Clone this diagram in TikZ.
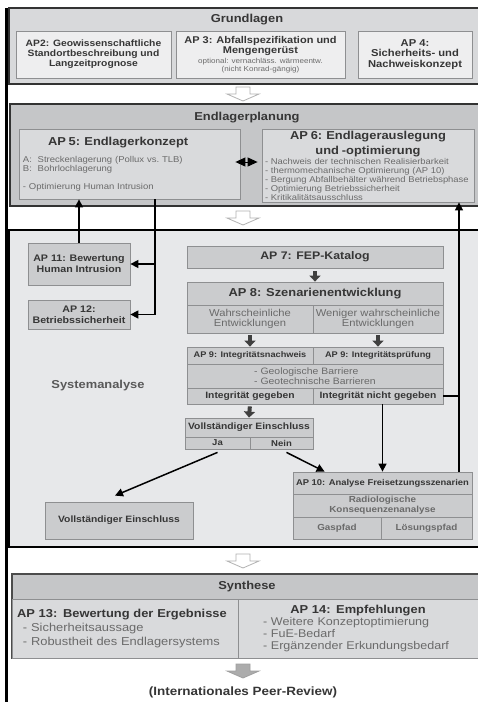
\documentclass[tikz,border=0pt]{standalone}
\usepackage{fontspec}
\setmainfont{Liberation Sans}[FakeStretch=1.12]
\usetikzlibrary{arrows.meta,calc}

\definecolor{grundfill}{HTML}{D8D9DB}
\definecolor{grundbox}{HTML}{EEEEEF}
\definecolor{planfill}{HTML}{C5C6C8}
\definecolor{planbox}{HTML}{D9DADC}
\definecolor{sysfill}{HTML}{E7E8EA}
\definecolor{sysbox}{HTML}{CBCCCE}
\definecolor{synband}{HTML}{C5C6C8}
\definecolor{synbox}{HTML}{D9DADC}
\definecolor{rim}{HTML}{8E8F91}
\definecolor{ink}{HTML}{363636}
\definecolor{softink}{HTML}{6A6A6A}

\newcommand\fsz[2]{\fontsize{#1}{#2}\selectfont}

\tikzset{
  section/.style={draw=black!80, line width=1.4pt, inner sep=0pt},
  sectitle/.style={font=\bfseries\fsz{11.5}{13}, text=ink},
  cell/.style={draw=rim, line width=0.8pt, fill=sysbox, inner sep=0pt, align=center, text=ink},
  conn/.style={line width=1.5pt, -{Triangle[width=8pt,length=8pt]}},
  fat/.style={draw=black!75, line width=4pt, -{Triangle[width=11pt,length=6pt]}},
  sectionarrow/.pic={\path[pic actions] (-7,0) -- (7,0) -- (7,7) -- (16,7) -- (0,14) -- (-16,7) -- (-7,7) -- cycle;}
}

\begin{document}
\begin{tikzpicture}[x=1pt, y=-1pt]
  \clip (0,0) rectangle (478,702);
  \fill[white] (0,0) rectangle (478,702);

  % Grundlagen
  \node[section, fill=grundfill, minimum width=477pt, minimum height=76pt] (grund) at (247.5,46) {};
  \node[sectitle] (grundtitle) at (247,20) {Grundlagen};
  \node[cell, fill=grundbox, minimum width=155pt, minimum height=47pt, font=\bfseries\fsz{9.2}{10}] (ap2) at (93.5,54.5)
    {AP2: Geowissenschaftliche\\Standortbeschreibung und\\Langzeitprognose};
  \node[cell, fill=grundbox, minimum width=169pt, minimum height=47pt, font=\bfseries\fsz{9.8}{10.5}] (ap3) at (260.5,54.5)
    {AP 3: Abfallspezifikation und\\Mengengerüst\\[-1pt]{\mdseries\fsz{7.2}{8}\color{softink}optional: vernachläss. wärmeentw.}\\[-2.5pt]{\mdseries\fsz{7.2}{8}\color{softink}(nicht Konrad-gängig)}};
  \node[cell, fill=grundbox, minimum width=114pt, minimum height=47pt, font=\bfseries\fsz{10}{10.2}] (ap4) at (415,54.5)
    {AP 4:\\Sicherheits- und\\Nachweiskonzept};

  \pic[draw=gray!60, fill=white, line width=0.8pt] at (243,87) {sectionarrow};

  % Endlagerplanung
  \node[section, fill=planfill, minimum width=476pt, minimum height=102pt, line width=1.8pt] (plan) at (248,155) {};
  \node[sectitle] (plantitle) at (247,118) {Endlagerplanung};
  \node[cell, fill=planbox, minimum width=221pt, minimum height=70pt, text width=213pt, align=left, font=\fsz{8.5}{9}, text=softink] (ap5) at (129.5,164)
    {\hspace*{25pt}{\bfseries\fsz{11.5}{13}\color{ink}AP 5: Endlagerkonzept}\\[8pt]
     A:\ \ Streckenlagerung (Pollux vs.\ TLB)\\
     B:\ \ Bohrlochlagerung\\[9pt]
     - Optimierung Human Intrusion};
  \node[cell, fill=planbox, minimum width=212pt, minimum height=73pt, text width=206pt, align=left, font=\fsz{8.4}{9}, text=softink] (ap6) at (368,165.5)
    {\makebox[206pt]{\bfseries\fsz{11.5}{12}\color{ink}AP 6: Endlagerauslegung}\\[3pt]
     \makebox[206pt]{\bfseries\fsz{11.5}{12}\color{ink}und -optimierung}\\[1pt]
     - Nachweis der technischen Realisierbarkeit\\
     - thermomechanische Optimierung (AP 10)\\
     - Bergung Abfallbehälter während Betriebsphase\\
     - Optimierung Betriebssicherheit\\
     - Kritikalitätsausschluss};
  \draw[{Triangle[width=9pt,length=10pt]}-{Triangle[width=9pt,length=10pt]}, line width=1pt]
    ([xshift=-5pt,yshift=2pt]ap5.east) -- ([xshift=-4pt,yshift=2pt]ap6.west |- ap5.east);

  \pic[draw=gray!60, fill=white, line width=0.8pt] at (243,211) {sectionarrow};

  % Systemanalyse
  \node[section, fill=sysfill, minimum width=477pt, minimum height=317pt, draw=black, line width=2pt] (sys) at (247.5,388.5) {};
  \node[sectitle, text=black!65] (systitle) at (98,386) {Systemanalyse};

  \node[cell, minimum width=102pt, minimum height=42pt, font=\bfseries\fsz{9.5}{10.5}] (ap11) at (79,264) {AP 11: Bewertung\\Human Intrusion};
  \node[cell, minimum width=102pt, minimum height=29pt, font=\bfseries\fsz{9.5}{10.5}] (ap12) at (79,314.5) {AP 12:\\Betriebssicherheit};

  \node[cell, minimum width=256pt, minimum height=22pt, font=\bfseries\fsz{11}{12}] (ap7) at (315,257) {AP 7: FEP-Katalog};
  \node[cell, minimum width=256pt, minimum height=23pt, font=\bfseries\fsz{11.5}{12}] (ap8) at (315,293.5) {AP 8: Szenarienentwicklung};
  \node[cell, minimum width=126pt, minimum height=28pt, font=\fsz{10}{10.5}, text=softink] (wahr) at (250,319) {Wahrscheinliche\\Entwicklungen};
  \node[cell, minimum width=130pt, minimum height=28pt, font=\fsz{10}{10.5}, text=softink] (wenig) at (378,319) {Weniger wahrscheinliche\\Entwicklungen};
  \node[cell, minimum width=126pt, minimum height=17pt, font=\bfseries\fsz{8.2}{9}] (nachw) at (250,355.5) {AP 9: Integritätsnachweis};
  \node[cell, minimum width=130pt, minimum height=17pt, font=\bfseries\fsz{8.2}{9}] (pruef) at (378,355.5) {AP 9: Integritätsprüfung};
  \node[cell, minimum width=256pt, minimum height=24pt, align=left, font=\fsz{9.3}{10}, text=softink] (barr) at (315,376) {- Geologische Barriere\\- Geotechnische Barrieren};
  \node[cell, minimum width=126pt, minimum height=16pt, font=\bfseries\fsz{9.2}{10}] (gegeb) at (250,396) {Integrität gegeben};
  \node[cell, minimum width=130pt, minimum height=16pt, font=\bfseries\fsz{9.2}{10}] (nicht) at (378,396) {Integrität nicht gegeben};
  \node[cell, minimum width=128pt, minimum height=19pt, font=\bfseries\fsz{9.2}{10}] (einsch) at (249,427.5) {Vollständiger Einschluss};
  \node[cell, minimum width=65pt, minimum height=12pt, font=\bfseries\fsz{8.5}{9}] (ja) at (217.5,443) {Ja};
  \node[cell, minimum width=63pt, minimum height=12pt, font=\bfseries\fsz{8.5}{9}] (nein) at (281.5,443) {Nein};
  \node[cell, minimum width=148pt, minimum height=37pt, font=\bfseries\fsz{9.2}{10}] (voll) at (119,520.5) {Vollständiger Einschluss};
  \node[cell, minimum width=179pt, minimum height=22pt, font=\bfseries\fsz{8.4}{9}] (ap10) at (382.5,483) {AP 10: Analyse Freisetzungsszenarien};
  \node[cell, minimum width=179pt, minimum height=23pt, font=\bfseries\fsz{8.8}{10}, text=softink] (radio) at (382.5,505.5) {Radiologische\\Konsequenzenanalyse};
  \node[cell, minimum width=88pt, minimum height=22pt, font=\bfseries\fsz{8.8}{10}, text=softink] (gas) at (337,528) {Gaspfad};
  \node[cell, minimum width=91pt, minimum height=22pt, font=\bfseries\fsz{8.8}{10}, text=softink] (loes) at (426.5,528) {Lösungspfad};

  \draw[fat, shorten <=3pt] (ap7.south) -- (ap8.north);
  \draw[fat, shorten <=2pt] (wahr.south) -- (nachw.north);
  \draw[fat, shorten <=2pt] (wenig.south) -- (pruef.north);
  \draw[fat, shorten <=2pt] (gegeb.south) -- (einsch.north);

  \coordinate (fork) at (155,264);
  \coordinate (back) at (459,396);
  \draw[conn] (ap11.north) -- (ap11.north |- ap5.south);
  \draw[conn] (ap5.south -| fork) |- (ap12.east);
  \draw[conn] (fork) -- (ap11.east);
  \draw[conn] (ap10.north -| back) -- (ap6.south -| back);
  \draw[line width=1.5pt] (nicht.east) -- (back);
  \draw[conn] (nicht.south -| ap10.north) -- (ap10.north);
  \draw[conn] ([xshift=5pt,yshift=-3pt]nein.south) -- ([xshift=32pt]ap10.north west);
  \draw[conn] ([yshift=-3pt]ja.south) -- ([xshift=-4pt,yshift=6pt]voll.north);

  \pic[draw=gray!60, fill=white, line width=0.8pt] at (243,554) {sectionarrow};

  % Synthese
  \node[section, fill=synband, minimum width=474pt, minimum height=84pt, line width=1.2pt, draw=black!70] (syn) at (249,616) {};
  \node[sectitle] (syntitle) at (247,587) {Synthese};
  \node[cell, fill=synbox, minimum width=226pt, minimum height=59pt, text width=216pt, align=left, font=\fsz{11.5}{14}, text=softink] (ap13) at (125,628.5)
    {{\bfseries\color{ink}AP 13: Bewertung der Ergebnisse}\\
     \hspace*{6pt}- Sicherheitsaussage\\
     \hspace*{6pt}- Robustheit des Endlagersystems};
  \node[cell, fill=synbox, minimum width=240pt, minimum height=59pt, text width=228pt, align=left, font=\fsz{11.2}{12}, text=softink] (ap14) at (358,628.5)
    {\makebox[228pt]{\bfseries\fsz{11.5}{12}\color{ink}AP 14: Empfehlungen}\\
     \hspace*{19pt}- Weitere Konzeptoptimierung\\
     \hspace*{19pt}- FuE-Bedarf\\
     \hspace*{19pt}- Ergänzender Erkundungsbedarf};

  \pic[draw=gray!75, fill=gray!65, line width=0.8pt] at (243,664) {sectionarrow};
  \node[font=\bfseries\fsz{12}{13}, text=ink] (review) at (243,692.5) {(Internationales Peer-Review)};

  \draw[line width=3pt] (6.5,8) -- (6.5,702);
  %\draw[gray] (0,0) rectangle (478,702);
\end{tikzpicture}
\end{document}
